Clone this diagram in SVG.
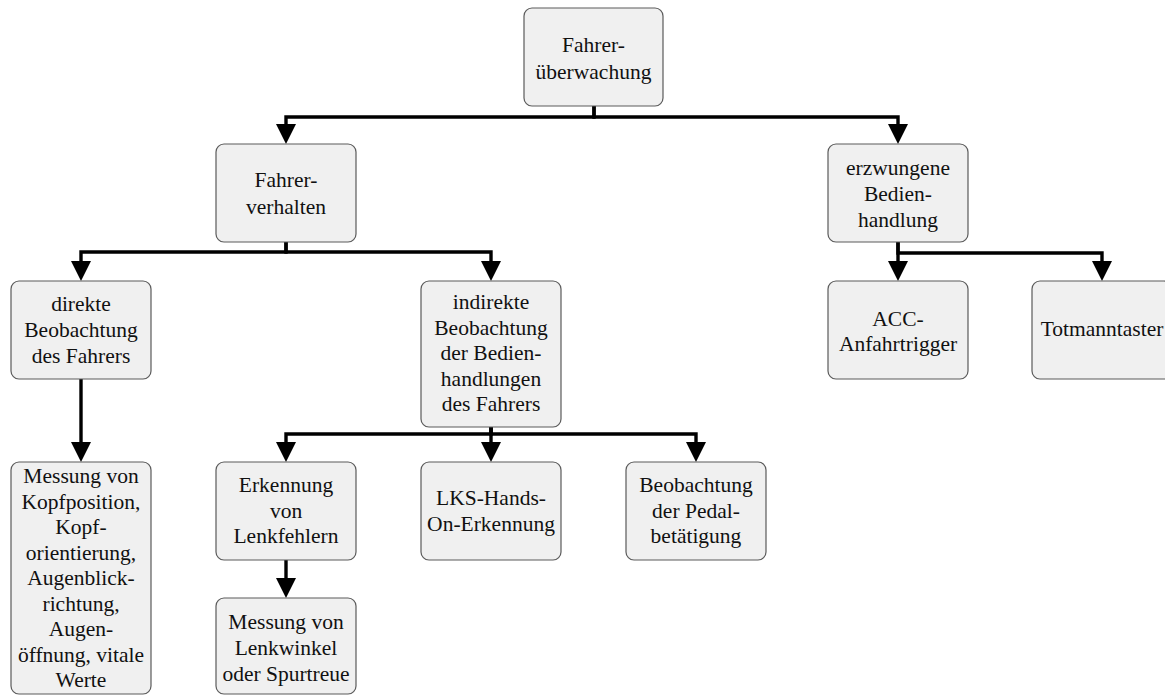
<svg xmlns="http://www.w3.org/2000/svg" width="1165" height="695" viewBox="0 0 1165 695">
  <style>
    .box { fill: #f0f0f0; stroke: #5a5a5a; stroke-width: 1.2; }
    .lbl { font-family: "Liberation Serif", "Times New Roman", serif; font-size: 21.5px; fill: #111; text-anchor: middle; }
    .wire { fill: none; stroke: #000; stroke-width: 3.4; stroke-linejoin: miter; }
  </style>
  <defs>
    <marker id="arrow" markerUnits="userSpaceOnUse" markerWidth="20" markerHeight="20" viewBox="0 0 20 20" refX="0" refY="10" orient="auto">
      <path d="M0,0 L20,10 L0,20 z" fill="#000"/>
    </marker>
  </defs>
  <rect width="1165" height="695" fill="#fff"/>

  <g id="connectors">
    <path class="wire" d="M594 106 V117 H286 V124" marker-end="url(#arrow)"/>
    <path class="wire" d="M594 106 V117 H898 V124" marker-end="url(#arrow)"/>
    <path class="wire" d="M286 242 V252 H81 V261" marker-end="url(#arrow)"/>
    <path class="wire" d="M286 242 V252 H491 V261" marker-end="url(#arrow)"/>
    <path class="wire" d="M81 379 V442" marker-end="url(#arrow)"/>
    <path class="wire" d="M491 427 V434 H286 V442" marker-end="url(#arrow)"/>
    <path class="wire" d="M491 427 V442" marker-end="url(#arrow)"/>
    <path class="wire" d="M491 427 V434 H696 V442" marker-end="url(#arrow)"/>
    <path class="wire" d="M286 560 V578" marker-end="url(#arrow)"/>
    <path class="wire" d="M898 242 V261" marker-end="url(#arrow)"/>
    <path class="wire" d="M898 242 V253 H1102 V261" marker-end="url(#arrow)"/>
  </g>

  <g id="fahrerueberwachung">
    <rect class="box" x="524" y="8" width="139" height="98" rx="8"/>
    <text class="lbl" x="593.5" y="52">Fahrer-</text>
    <text class="lbl" x="593.5" y="79">überwachung</text>
  </g>

  <g id="fahrerverhalten">
    <rect class="box" x="216" y="144" width="140" height="98" rx="8"/>
    <text class="lbl" x="286" y="187">Fahrer-</text>
    <text class="lbl" x="286" y="214">verhalten</text>
  </g>

  <g id="erzwungene-bedienhandlung">
    <rect class="box" x="828" y="144" width="140" height="98" rx="8"/>
    <text class="lbl" x="898" y="175">erzwungene</text>
    <text class="lbl" x="898" y="201">Bedien-</text>
    <text class="lbl" x="898" y="227">handlung</text>
  </g>

  <g id="direkte-beobachtung">
    <rect class="box" x="11" y="281" width="140" height="98" rx="8"/>
    <text class="lbl" x="81" y="311">direkte</text>
    <text class="lbl" x="81" y="337">Beobachtung</text>
    <text class="lbl" x="81" y="363">des Fahrers</text>
  </g>

  <g id="indirekte-beobachtung">
    <rect class="box" x="421" y="281" width="140" height="146" rx="8"/>
    <text class="lbl" x="491" y="309">indirekte</text>
    <text class="lbl" x="491" y="334.5">Beobachtung</text>
    <text class="lbl" x="491" y="360">der Bedien-</text>
    <text class="lbl" x="491" y="385.5">handlungen</text>
    <text class="lbl" x="491" y="411">des Fahrers</text>
  </g>

  <g id="acc-anfahrtrigger">
    <rect class="box" x="828" y="281" width="140" height="98" rx="8"/>
    <text class="lbl" x="898" y="326">ACC-</text>
    <text class="lbl" x="898" y="351">Anfahrtrigger</text>
  </g>

  <g id="totmanntaster">
    <rect class="box" x="1032" y="281" width="140" height="98" rx="8"/>
    <text class="lbl" x="1102" y="336">Totmanntaster</text>
  </g>

  <g id="messung-kopf">
    <rect class="box" x="11" y="462" width="140" height="232" rx="8"/>
    <text class="lbl" x="81" y="483">Messung von</text>
    <text class="lbl" x="81" y="508.5">Kopfposition,</text>
    <text class="lbl" x="81" y="534">Kopf-</text>
    <text class="lbl" x="81" y="559.5">orientierung,</text>
    <text class="lbl" x="81" y="585">Augenblick-</text>
    <text class="lbl" x="81" y="610.5">richtung,</text>
    <text class="lbl" x="81" y="636">Augen-</text>
    <text class="lbl" x="81" y="661.5">öffnung, vitale</text>
    <text class="lbl" x="81" y="687">Werte</text>
  </g>

  <g id="erkennung-lenkfehler">
    <rect class="box" x="216" y="462" width="140" height="98" rx="8"/>
    <text class="lbl" x="286" y="492">Erkennung</text>
    <text class="lbl" x="286" y="518">von</text>
    <text class="lbl" x="286" y="543">Lenkfehlern</text>
  </g>

  <g id="lks-hands-on">
    <rect class="box" x="421" y="462" width="140" height="98" rx="8"/>
    <text class="lbl" x="491" y="505">LKS-Hands-</text>
    <text class="lbl" x="491" y="531">On-Erkennung</text>
  </g>

  <g id="pedalbetaetigung">
    <rect class="box" x="626" y="462" width="140" height="98" rx="8"/>
    <text class="lbl" x="696" y="492">Beobachtung</text>
    <text class="lbl" x="696" y="518">der Pedal-</text>
    <text class="lbl" x="696" y="543">betätigung</text>
  </g>

  <g id="messung-lenkwinkel">
    <rect class="box" x="216" y="598" width="140" height="96" rx="8"/>
    <text class="lbl" x="286" y="629">Messung von</text>
    <text class="lbl" x="286" y="655">Lenkwinkel</text>
    <text class="lbl" x="286" y="681">oder Spurtreue</text>
  </g>
</svg>
